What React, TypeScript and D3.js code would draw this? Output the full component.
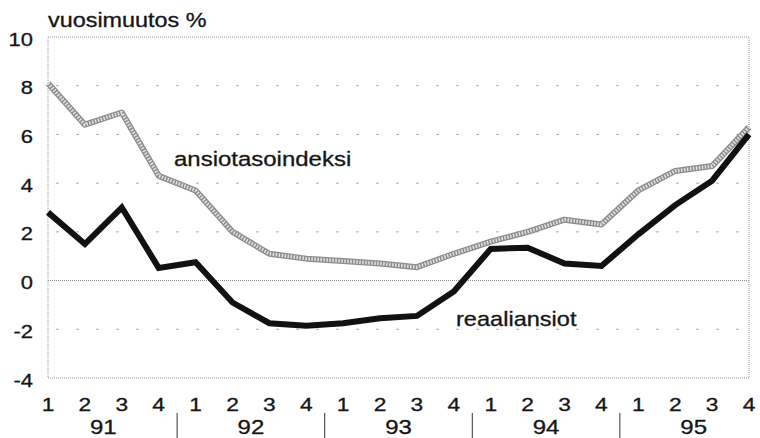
import React from "react";
import * as d3 from "d3";

const quarters = ["1","2","3","4","1","2","3","4","1","2","3","4","1","2","3","4","1","2","3","4"];
const years = ["91","92","93","94","95"];
const ansiotasoindeksi = [8.1,6.4,6.9,4.3,3.7,2.0,1.1,0.9,0.8,0.7,0.55,1.1,1.6,2.0,2.5,2.3,3.7,4.5,4.7,6.3];
const reaaliansiot = [2.8,1.5,3.0,0.52,0.75,-0.9,-1.75,-1.85,-1.75,-1.55,-1.45,-0.45,1.3,1.35,0.7,0.6,1.9,3.1,4.1,6.0];
const yTicks = [-4,-2,0,2,4,6,8,10];

const W = 760, H = 438;
const L = 48, R = 749, T = 37, B = 378;
const FONT = "'Liberation Sans', Arial, sans-serif";

function Txt(props: { x: number; y: number; size: number; anchor?: string; sx?: number; children: React.ReactNode }) {
  const { x, y, size, anchor = "start", sx = 1.17, children } = props;
  return (
    <text
      transform={`translate(${x},${y}) scale(${sx},1)`}
      textAnchor={anchor as any}
      fontSize={size}
      fill="#151515"
      stroke="#151515"
      strokeWidth={0.3}
    >
      {children}
    </text>
  );
}

export default function App() {
  const x = d3.scaleLinear().domain([0, quarters.length - 1]).range([L, R]);
  const y = d3.scaleLinear().domain([-4, 10]).range([B, T]);
  const line = d3.line<number>().x((_, i) => x(i)).y((d) => y(d));
  const ansioPath = line(ansiotasoindeksi) || "";
  const reaaliPath = line(reaaliansiot) || "";

  return (
    <svg width={W} height={H} style={{ position: "absolute", left: 0, top: 0, background: "#fff" }} fontFamily={FONT}>
      <rect x={0} y={0} width={W} height={H} fill="#fff" />
      {/* grid lines */}
      {yTicks.filter((t) => t !== 0 && t !== 10 && t !== -4).map((t) => (
        <line key={t} x1={L + 8} x2={R - 8} y1={y(t)} y2={y(t)} stroke="#aaa" strokeWidth={1} strokeDasharray="3,17" />
      ))}
      {/* zero line and frame (fine dotted) */}
      <line x1={L} x2={R} y1={y(0)} y2={y(0)} stroke="#888" strokeWidth={1} strokeDasharray="1,1" />
      <rect x={L} y={T} width={R - L} height={B - T} fill="none" stroke="#999" strokeWidth={1} strokeDasharray="1,1" />
      {/* y labels */}
      {yTicks.map((t) => (
        <Txt key={t} x={33} y={y(t) + 8.5} anchor="end" size={18} sx={1.22}>{t}</Txt>
      ))}
      <Txt x={48} y={27} size={20}>vuosimuutos %</Txt>
      {/* x labels */}
      {quarters.map((q, i) => (
        <Txt key={i} x={x(i)} y={411} anchor="middle" size={19} sx={1.2}>{q}</Txt>
      ))}
      {years.map((yr, k) => (
        <Txt key={yr} x={(x(k * 4) + x(k * 4 + 3)) / 2} y={434} anchor="middle" size={20} sx={1.2}>{yr}</Txt>
      ))}
      {years.slice(1).map((yr, k) => {
        const xs = (x((k + 1) * 4 - 1) + x((k + 1) * 4)) / 2;
        return <line key={yr} x1={xs} x2={xs} y1={413} y2={438} stroke="#333" strokeWidth={1} />;
      })}
      {/* ansiotasoindeksi line: textured gray */}
      <path d={ansioPath} fill="none" stroke="#8c8c8c" strokeWidth={6} strokeLinejoin="round" />
      <path d={ansioPath} fill="none" stroke="#e4e4e4" strokeWidth={3.5} strokeDasharray="1.5,1.5" strokeLinejoin="round" />
      {/* reaaliansiot line */}
      <path d={reaaliPath} fill="none" stroke="#111" strokeWidth={6} strokeLinejoin="miter" />
      <Txt x={174} y={166} size={20.5}>ansiotasoindeksi</Txt>
      <Txt x={456} y={326} size={20.5} sx={1.15}>reaaliansiot</Txt>
    </svg>
  );
}
